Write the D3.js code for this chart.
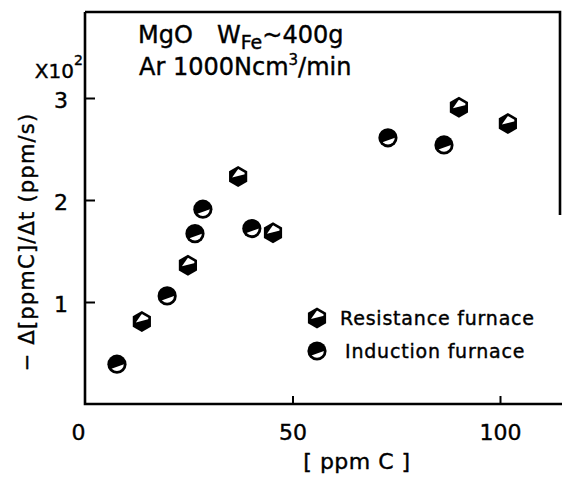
<!DOCTYPE html>
<html>
<head>
<meta charset="utf-8">
<script src="https://cdn.jsdelivr.net/npm/d3@7"></script>
<style>
  body { margin: 0; background: #fff; }
  svg { display: block; font-family: "DejaVu Sans", sans-serif; }
  text { stroke: #000; stroke-width: 0.4px; }
</style>
</head>
<body>
<svg width="562" height="477"></svg>
<script>
// carbon content [ppmC] and decarburisation rate (x10^2 ppm/s)
var inductionC    = [7.7, 19.8, 26.5, 28.4, 40.2, 73.0, 86.5];
var inductionRate = [0.39, 1.06, 1.67, 1.91, 1.72, 2.61, 2.54];
var resistanceC    = [13.7, 24.8, 36.9, 45.3, 90.1, 101.9];
var resistanceRate = [0.81, 1.36, 2.23, 1.68, 2.91, 2.75];
var xTicks = [0, 50, 100];
var yTicks = [1, 2, 3];

var svg = d3.select("svg");
var x = d3.scaleLinear().domain([0, 100]).range([85, 500]);
var y = d3.scaleLinear().domain([0, 3]).range([404, 98]);
var ink = "#000";

// frame
var frame = svg.append("g").attr("stroke", ink).attr("stroke-width", 2.6).attr("fill", "none");
frame.append("path").attr("d", "M85,12H560V215");
frame.append("path").attr("d", "M85,12V404H562");

// axes (inward ticks)
var xAxis = svg.append("g").attr("transform", "translate(0,404)")
    .call(d3.axisBottom(x).tickValues(xTicks).tickFormat(d3.format("d")).tickSize(-8).tickPadding(20));
xAxis.select(".domain").remove();
xAxis.selectAll("line").attr("stroke", ink).attr("stroke-width", 2);
xAxis.selectAll(".tick").filter(function(d) { return d === 0; }).select("line").remove();
xAxis.selectAll("text").attr("font-size", 22).attr("font-family", "DejaVu Sans").attr("fill", ink)
    .attr("dx", function(d) { return d === 0 ? -7 : 0; });

var yAxis = svg.append("g").attr("transform", "translate(85,0)")
    .call(d3.axisLeft(y).tickValues(yTicks).tickFormat(d3.format("d")).tickSize(-10).tickPadding(17));
yAxis.select(".domain").remove();
yAxis.selectAll("line").attr("stroke", ink).attr("stroke-width", 2);
yAxis.selectAll("text").attr("font-size", 22).attr("font-family", "DejaVu Sans").attr("fill", ink)
    .attr("dy", "0.45em");

// axis titles
svg.append("text").attr("x", 357).attr("y", 469).attr("text-anchor", "middle")
    .attr("font-size", 22).attr("letter-spacing", 0.5).text("[ ppm C ]");
svg.append("text").attr("transform", "translate(34,242) rotate(-90)").attr("text-anchor", "middle")
    .attr("font-size", 21).attr("letter-spacing", 1.2).text("\u2212 \u0394[ppmC]/\u0394t (ppm/s)");
svg.append("text").attr("x", 74).attr("y", 78).attr("text-anchor", "end")
    .attr("font-size", 20).text("X10");
svg.append("text").attr("x", 74).attr("y", 65).attr("font-size", 14).text("2");

// conditions
var t1 = svg.append("text").attr("x", 138).attr("y", 43).attr("font-size", 24);
t1.append("tspan").text("MgO");
t1.append("tspan").attr("x", 217).text("W");
t1.append("tspan").attr("dy", 6).attr("font-size", 19).text("Fe");
t1.append("tspan").attr("dy", -6).text("~400g");
var t2 = svg.append("text").attr("x", 139).attr("y", 75).attr("font-size", 24);
t2.append("tspan").text("Ar 1000Ncm");
t2.append("tspan").attr("dy", -10).attr("font-size", 15).text("3");
t2.append("tspan").attr("dy", 10).text("/min");

// markers
var defs = svg.append("defs");
function hexPts(r) {
  return d3.range(6).map(function(i) {
    var a = Math.PI / 3 * i - Math.PI / 2;
    return [r * Math.cos(a), r * Math.sin(a)];
  });
}
defs.append("clipPath").attr("id", "hexClip").append("polygon").attr("points", hexPts(7.5).join(" "));
defs.append("clipPath").attr("id", "cirClip").append("circle").attr("r", 6.8);

function drawHex(g) {
  g.append("polygon").attr("points", hexPts(10.5).join(" ")).attr("fill", ink);
  g.append("polygon").attr("clip-path", "url(#hexClip)").attr("fill", "#fff")
    .attr("points", "-6,1 1,-9 10,-5 10,-3");
}
function drawCircle(g) {
  g.append("circle").attr("r", 9.6).attr("fill", ink);
  g.append("polygon").attr("clip-path", "url(#cirClip)").attr("fill", "#fff")
    .attr("points", "-7,5 10,-1 10,10 -7,10");
}

svg.append("g").selectAll("g").data(resistanceC).enter().append("g")
    .attr("transform", function(d, i) { return "translate(" + x(d) + "," + y(resistanceRate[i]) + ")"; })
    .each(function() { drawHex(d3.select(this)); });
svg.append("g").selectAll("g").data(inductionC).enter().append("g")
    .attr("transform", function(d, i) { return "translate(" + x(d) + "," + y(inductionRate[i]) + ")"; })
    .each(function() { drawCircle(d3.select(this)); });

// legend
var legend = [
  {label: "Resistance furnace", draw: drawHex, y: 318, tx: 340},
  {label: "Induction furnace", draw: drawCircle, y: 351, tx: 345}
];
legend.forEach(function(l) {
  l.draw(svg.append("g").attr("transform", "translate(317," + l.y + ")"));
  svg.append("text").attr("x", l.tx).attr("y", l.y + 7).attr("font-size", 19)
      .attr("letter-spacing", 0.8).text(l.label);
});
</script>
</body>
</html>
